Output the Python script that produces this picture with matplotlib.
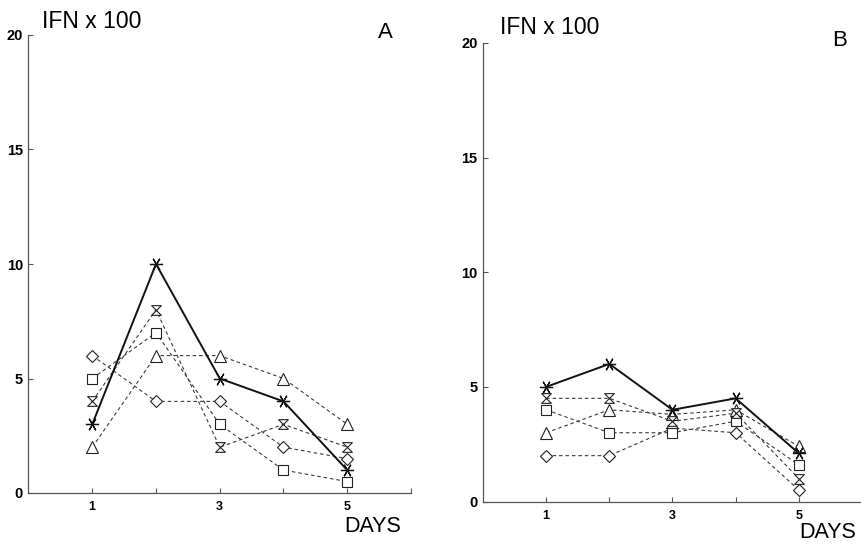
import matplotlib
matplotlib.use("Agg")
import matplotlib.pyplot as plt
from matplotlib.path import Path

# ---- data ----
days = [1, 2, 3, 4, 5]
x_ticks = [1, 2, 3, 4, 5, 6]
x_ticklabels = ["1", "", "3", "", "5", ""]
y_ticks = [0, 5, 10, 15, 20]

a_star = [3, 10, 5, 4, 1]
a_hour = [4, 8, 2, 3, 2]
a_square = [5, 7, 3, 1, 0.5]
a_tri = [2, 6, 6, 5, 3]
a_diam = [6, 4, 4, 2, 1.5]

b_star = [5, 6, 4, 4.5, 2.1]
b_hour = [4.5, 4.5, 3.5, 3.85, 1.0]
b_square = [4, 3, 3, 3.5, 1.6]
b_tri = [3, 4, 3.8, 4, 2.4]
b_diam = [2, 2, 3.2, 3, 0.5]

plt.rcParams['font.family'] = ['Liberation Sans', 'DejaVu Sans']

W, H = 862, 545
fig = plt.figure(figsize=(W / 100, H / 100), dpi=100)
fig.patch.set_facecolor('white')

hourglass = Path([(-1, 1), (1, 1), (-1, -1), (1, -1), (-1, 1)],
                 [Path.MOVETO, Path.LINETO, Path.LINETO, Path.LINETO, Path.CLOSEPOLY])

def px_axes(left, right, y0, y20):
    return fig.add_axes([left / W, (H - y0) / H, (right - left) / W, (y0 - y20) / H])

def draw_panel(ax, xmax, star, hour, square, tri, diam):
    dash = (0, (3.2, 2.6))
    gc = '#3a3a3a'
    ms = 8
    mew = 0.8
    kw = dict(color=gc, lw=0.8, ls=dash, mfc='white', mec='#222222', mew=mew, ms=ms, zorder=2)
    ax.plot(days, tri, marker='^', **kw)
    ax.plot(days, diam, marker='D', **dict(kw, ms=6.5))
    ax.plot(days, square, marker='s', **dict(kw, ms=7))
    ax.plot(days, hour, marker=hourglass, **dict(kw, ms=7))
    ax.plot(days, star, color='#111111', lw=1.4, marker=(6, 2, 90), ms=9.5,
            mec='#111111', mew=0.9, zorder=3)
    ax.set_xlim(0, xmax)
    ax.set_ylim(0, 20)
    ax.set_xticks(x_ticks)
    ax.set_xticklabels(x_ticklabels)
    ax.set_yticks(y_ticks)
    ax.set_yticklabels([str(v) for v in y_ticks])
    for s in ['top', 'right']:
        ax.spines[s].set_visible(False)
    for s in ['left', 'bottom']:
        ax.spines[s].set_color('#555555')
        ax.spines[s].set_linewidth(0.9)
    ax.tick_params(axis='x', direction='in', length=3.5, width=0.8, color='#555555',
                   pad=6, labelsize=9)
    ax.tick_params(axis='y', direction='in', length=3.5, width=0.8, color='#555555',
                   pad=4, labelsize=10.5)
    for lab in ax.get_xticklabels() + ax.get_yticklabels():
        lab.set_fontweight('bold')
    ax.set_facecolor('none')

axA = px_axes(28.5, 28.5 + 6 * 63.75, 493, 35)
draw_panel(axA, 6, a_star, a_hour, a_square, a_tri, a_diam)

axB = px_axes(483, 862, 501.5, 43)
draw_panel(axB, (862 - 483) / 63.75, b_star, b_hour, b_square, b_tri, b_diam)

def ftext(x, y, s, **kw):
    fig.text(x / W, 1 - y / H, s, **kw)

ftext(42, 21, "IFN x 100", fontsize=16.5, ha='left', va='center')
ftext(500, 28, "IFN x 100", fontsize=16.5, ha='left', va='center')
ftext(385, 33, "A", fontsize=16, ha='center', va='center')
ftext(840, 41, "B", fontsize=16, ha='center', va='center')
ftext(373, 526, "DAYS", fontsize=15.5, ha='center', va='center')
ftext(828, 532, "DAYS", fontsize=15.5, ha='center', va='center')

fig.savefig("out.png", dpi=100, facecolor='white')
